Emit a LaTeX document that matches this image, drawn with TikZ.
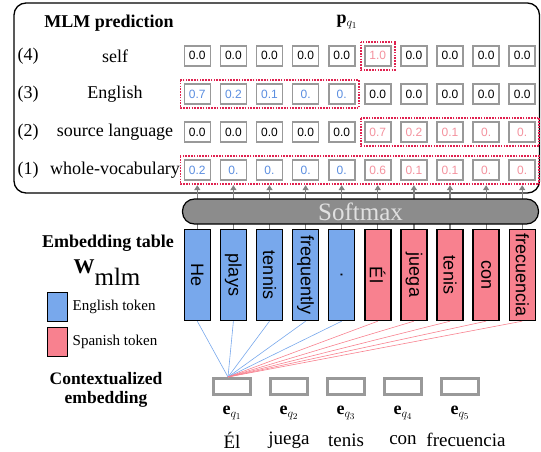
\documentclass[tikz,border=0pt]{standalone}
\usepackage{fontspec}
\setmainfont{Liberation Serif}
\setsansfont{Liberation Sans}
\usepackage{graphicx}
\usetikzlibrary{calc}
\usetikzlibrary{matrix}
\usetikzlibrary{positioning}
\usetikzlibrary{arrows.meta}

\definecolor{engfill}{HTML}{78A8EC}
\definecolor{spafill}{HTML}{F8818F}
\definecolor{engtext}{HTML}{5B8EE0}
\definecolor{spatext}{HTML}{F4929E}
\definecolor{boxgray}{HTML}{999999}
\definecolor{dotred}{HTML}{E0214F}
\definecolor{softgray}{HTML}{8C8C8C}

\newcommand{\vtok}[1]{\rotatebox{-90}{#1}}

\begin{document}
\begin{tikzpicture}[x=1pt,y=-1pt,
  valbox/.style={draw=boxgray,line width=1.6pt,fill=white,minimum width=26pt,minimum height=20pt,inner sep=1pt,outer sep=0pt,font=\sffamily\fontsize{12}{12}\selectfont},
  eng/.style={text=engtext},
  spa/.style={text=spatext},
  pick/.style={draw=dotred,line width=1.6pt,dash pattern=on 1.6pt off 1.2pt},
  tokbar/.style={draw=black,line width=1.4pt,minimum width=26pt,minimum height=91pt,inner sep=0pt,font=\sffamily\fontsize{18}{18}\selectfont},
  engbar/.style={tokbar,fill=engfill},
  spabar/.style={tokbar,fill=spafill},
  softarrow/.style={draw=boxgray!85!black,line width=1.2pt,-{Triangle[width=6pt,length=5pt]},shorten >=5pt},
  engline/.style={draw=engfill,line width=0.6pt},
  spaline/.style={draw=spafill,line width=0.6pt},
  ebox/.style={draw=boxgray,line width=3pt,minimum width=37pt,minimum height=16pt,inner sep=0pt},
  lab/.style={font=\fontsize{18}{20}\selectfont},
  bigbold/.style={font=\bfseries\fontsize{18}{19}\selectfont,align=center}]

\useasboundingbox (0,0) rectangle (541,452);

% prediction panel
\draw[line width=1.3pt,rounded corners=12pt] (14,3) rectangle (539.5,193);
\node[bigbold] (mlmtitle) at (109,23) {MLM prediction};
\node[font=\fontsize{18}{18}\selectfont] (pq) at (347,22) {\textbf{p}$_{q_1}$};

\matrix[matrix of nodes,nodes={valbox},column sep=8.5pt,row sep=16.5pt,inner sep=0pt] (m) at (359.75,113) {
0.0 & 0.0 & 0.0 & 0.0 & 0.0 & |[spa]| 1.0 & 0.0 & 0.0 & 0.0 & 0.0 \\
|[eng]| 0.7 & |[eng]| 0.2 & |[eng]| 0.1 & |[eng]| 0. & |[eng]| 0. & 0.0 & 0.0 & 0.0 & 0.0 & 0.0 \\
0.0 & 0.0 & 0.0 & 0.0 & 0.0 & |[spa]| 0.7 & |[spa]| 0.2 & |[spa]| 0.1 & |[spa]| 0. & |[spa]| 0. \\
|[eng]| 0.2 & |[eng]| 0. & |[eng]| 0. & |[eng]| 0. & |[eng]| 0. & |[spa]| 0.6 & |[spa]| 0.1 & |[spa]| 0.1 & |[spa]| 0. & |[spa]| 0. \\
};

\draw[pick] ($(m-1-6.north west)+(-4,-4)$) rectangle ($(m-1-6.south east)+(4,4)$);
\draw[pick] ($(m-2-1.north west)+(-4,-4)$) rectangle ($(m-2-5.south east)+(4,4)$);
\draw[pick] ($(m-3-6.north west)+(-4,-4)$) rectangle ($(m-3-10.south east)+(4,4)$);
\draw[pick] ($(m-4-1.north west)+(-4,-4)$) rectangle ($(m-4-10.south east)+(4,4)$);

\coordinate (numcol) at (28,0);
\coordinate (labcol) at (115,0);
\node[lab] (n4) at (numcol |- m-1-1) {(4)};
\node[lab] (n3) at (numcol |- m-2-1) {(3)};
\node[lab] (n2) at (numcol |- m-3-1) {(2)};
\node[lab] (n1) at (numcol |- m-4-1) {(1)};
\node[lab] (l4) at (labcol |- m-1-1) {self};
\node[lab] (l3) at (labcol |- m-2-1) {English};
\node[lab] (l2) at (labcol |- m-3-1) {source language};
\node[lab] (l1) at (labcol |- m-4-1) {whole-vocabulary};

% embedding table
\coordinate (barrow) at (0,275);
\node[engbar] (he) at (m-4-1 |- barrow) {\vtok{He}};
\node[engbar] (plays) at (m-4-2 |- barrow) {\vtok{plays}};
\node[engbar] (tennis) at (m-4-3 |- barrow) {\vtok{tennis}};
\node[engbar] (frequently) at (m-4-4 |- barrow) {\vtok{frequently}};
\node[engbar] (dot) at (m-4-5 |- barrow) {\vtok{.}};
\node[spabar] (el) at (m-4-6 |- barrow) {\vtok{Él}};
\node[spabar] (juega) at (m-4-7 |- barrow) {\vtok{juega}};
\node[spabar] (tenis) at (m-4-8 |- barrow) {\vtok{tenis}};
\node[spabar] (con) at (m-4-9 |- barrow) {\vtok{con}};
\node[spabar] (frecuencia) at (m-4-10 |- barrow) {\vtok{frecuencia}};

\draw[softarrow] (he.north) -- (m-4-1.south);
\draw[softarrow] (plays.north) -- (m-4-2.south);
\draw[softarrow] (tennis.north) -- (m-4-3.south);
\draw[softarrow] (frequently.north) -- (m-4-4.south);
\draw[softarrow] (dot.north) -- (m-4-5.south);
\draw[softarrow] (el.north) -- (m-4-6.south);
\draw[softarrow] (juega.north) -- (m-4-7.south);
\draw[softarrow] (tenis.north) -- (m-4-8.south);
\draw[softarrow] (con.north) -- (m-4-9.south);
\draw[softarrow] (frecuencia.north) -- (m-4-10.south);

\node[draw=black,line width=1.2pt,fill=softgray,rounded corners=12pt,minimum width=356pt,minimum height=25pt,inner sep=0pt,text=white!88!black,font=\fontsize{25}{25}\selectfont] (softmax) at (360.5,211.5) {Softmax};

\node[bigbold] (embtitle) at (108,243) {Embedding table};
\node[inner sep=0pt] (wmlm) at (107,273) {{\fontsize{21}{21}\selectfont\textbf{W}}\raisebox{-12pt}{\fontsize{25}{25}\selectfont mlm}};

\node[draw=black,line width=1.4pt,fill=engfill,minimum width=20pt,minimum height=29pt] (engkey) at (57.5,307) {};
\node[draw=black,line width=1.4pt,fill=spafill,minimum width=20pt,minimum height=29pt] (spakey) at (57.5,342) {};
\node[right=1pt of engkey,font=\fontsize{15}{15}\selectfont] (engtxt) {English token};
\node[right=1pt of spakey,font=\fontsize{15}{15}\selectfont] (spatxt) {Spanish token};

% contextualized embeddings
\node[bigbold,font=\bfseries\fontsize{17.5}{19}\selectfont] (ctxtitle) at (106,390) {Contextualized\\embedding};
\node[ebox] (e1) at (232,386.5) {};
\node[ebox,right=17pt of e1] (e2) {};
\node[ebox,right=17pt of e2] (e3) {};
\node[ebox,right=17pt of e3] (e4) {};
\node[ebox,right=17pt of e4] (e5) {};

\coordinate (conv) at ($(e1.north)+(-4,0)$);
\draw[engline] (he.south) -- (conv);
\draw[engline] (plays.south) -- (conv);
\draw[engline] (tennis.south) -- (conv);
\draw[engline] (frequently.south) -- (conv);
\draw[engline] (dot.south) -- (conv);
\draw[spaline] (el.south) -- (conv);
\draw[spaline] (juega.south) -- (conv);
\draw[spaline] (tenis.south) -- (conv);
\draw[spaline] (con.south) -- (conv);
\draw[spaline] (frecuencia.south) -- (conv);

\coordinate (elabrow) at (0,413);
\node[font=\fontsize{18}{18}\selectfont] (le1) at (e1 |- elabrow) {\textbf{e}$_{q_1}$};
\node[font=\fontsize{18}{18}\selectfont] (le2) at (e2 |- elabrow) {\textbf{e}$_{q_2}$};
\node[font=\fontsize{18}{18}\selectfont] (le3) at (e3 |- elabrow) {\textbf{e}$_{q_3}$};
\node[font=\fontsize{18}{18}\selectfont] (le4) at (e4 |- elabrow) {\textbf{e}$_{q_4}$};
\node[font=\fontsize{18}{18}\selectfont] (le5) at (e5 |- elabrow) {\textbf{e}$_{q_5}$};

\coordinate (wordrow) at (0,440);
\node[lab,font=\fontsize{19}{19}\selectfont] (w1) at (e1 |- wordrow) {Él};
\node[lab,font=\fontsize{19}{19}\selectfont] (w2) at (e2 |- wordrow) {juega};
\node[lab,font=\fontsize{19}{19}\selectfont] (w3) at (e3 |- wordrow) {tenis};
\node[lab,font=\fontsize{19}{19}\selectfont] (w4) at (e4 |- wordrow) {con};
\node[lab,font=\fontsize{19}{19}\selectfont,xshift=6pt] (w5) at (e5 |- wordrow) {frecuencia};

\end{tikzpicture}
\end{document}
